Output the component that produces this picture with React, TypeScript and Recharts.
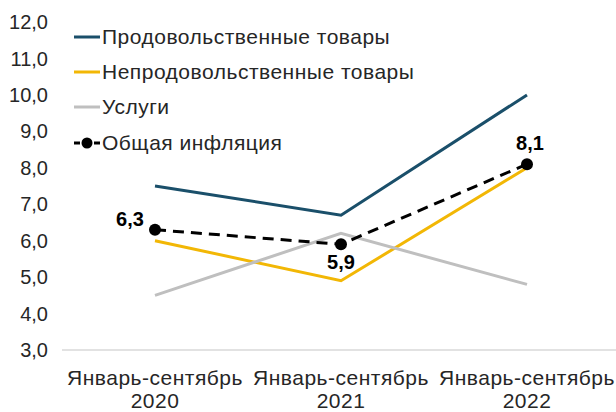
import { LineChart, Line, XAxis, YAxis, LabelList } from "recharts";

const periods = ["Январь-сентябрь 2020", "Январь-сентябрь 2021", "Январь-сентябрь 2022"];
const food = [7.5, 6.7, 10.0];
const nonFood = [6.0, 4.9, 8.0];
const services = [4.5, 6.2, 4.8];
const overall = [6.3, 5.9, 8.1];
const yTicks = [3, 4, 5, 6, 7, 8, 9, 10, 11, 12];

const data = periods.map((p, i) => ({
  period: p,
  food: food[i],
  nonFood: nonFood[i],
  services: services[i],
  overall: overall[i],
}));

const FONT = "'Liberation Sans', Arial, sans-serif";
const TEXT = "#262626";

const legendItems = [
  { name: "Продовольственные товары", color: "#1a4f6a", dot: false },
  { name: "Непродовольственные товары", color: "#f2b705", dot: false },
  { name: "Услуги", color: "#bfbfbf", dot: false },
  { name: "Общая инфляция", color: "#000000", dot: true },
];

const fmt = (v: number) => v.toFixed(1).replace(".", ",");

function XTick({ x, y, payload }: any) {
  const [a, b] = String(payload.value).split(" ");
  return (
    <text x={x} y={y} textAnchor="middle" fill={TEXT} fontSize={21} fontFamily={FONT} letterSpacing={0.5}>
      <tspan x={x} dy={27}>{a}</tspan>
      <tspan x={x} dy={23}>{b}</tspan>
    </text>
  );
}

const labelOffsets = [
  { dx: -25, dy: -11 },
  { dx: 0, dy: 18 },
  { dx: 3, dy: -21 },
];

function OverallLabel({ x, y, value, index }: any) {
  const o = labelOffsets[index] ?? { dx: 0, dy: -15 };
  return (
    <text
      x={x + o.dx}
      y={y + o.dy}
      textAnchor="middle"
      dominantBaseline="central"
      fill="#000"
      fontSize={20}
      fontWeight="bold"
      fontFamily={FONT}
    >
      {fmt(value)}
    </text>
  );
}

function LegendBox() {
  return (
    <div style={{ position: "absolute", left: 73, top: 19, fontFamily: FONT, fontSize: 21, letterSpacing: 0.5, color: TEXT }}>
      {legendItems.map((it) => (
        <div key={it.name} style={{ display: "flex", alignItems: "center", height: 35.3 }}>
          <svg width={28} height={14} style={{ marginRight: 1 }}>
            <line x1={1} y1={7} x2={27} y2={7} stroke={it.color} strokeWidth={3} strokeDasharray={it.dot ? "6 4" : undefined} />
            {it.dot && <circle cx={14} cy={7} r={5.5} fill="#000" />}
          </svg>
          <span>{it.name}</span>
        </div>
      ))}
    </div>
  );
}

export default function App() {
  return (
    <div style={{ position: "absolute", left: 0, top: 0, width: 616, height: 412, background: "#fff" }}>
      <LineChart width={616} height={412} data={data} margin={{ top: 22, right: -4, bottom: 0, left: 0 }}>
        <XAxis
          dataKey="period"
          tick={<XTick />}
          tickLine={false}
          axisLine={{ stroke: "#d9d9d9", strokeWidth: 1.5 }}
          height={62}
          interval={0}
          padding={{ left: 93, right: 93 }}
        />
        <YAxis
          domain={[3, 12]}
          ticks={yTicks}
          tickFormatter={fmt}
          tick={{ fill: TEXT, fontSize: 20, fontFamily: FONT }}
          axisLine={false}
          tickLine={false}
          width={62}
          tickMargin={8}
        />
        <Line dataKey="food" stroke="#1a4f6a" strokeWidth={3} dot={false} isAnimationActive={false} />
        <Line dataKey="nonFood" stroke="#f2b705" strokeWidth={3} dot={false} isAnimationActive={false} />
        <Line dataKey="services" stroke="#bfbfbf" strokeWidth={3} dot={false} isAnimationActive={false} />
        <Line
          dataKey="overall"
          stroke="#000"
          strokeWidth={3}
          strokeDasharray="11 7"
          dot={{ r: 6, fill: "#000", stroke: "#000", strokeWidth: 0 }}
          isAnimationActive={false}
        >
          <LabelList dataKey="overall" content={<OverallLabel />} />
        </Line>
      </LineChart>
      <LegendBox />
    </div>
  );
}
